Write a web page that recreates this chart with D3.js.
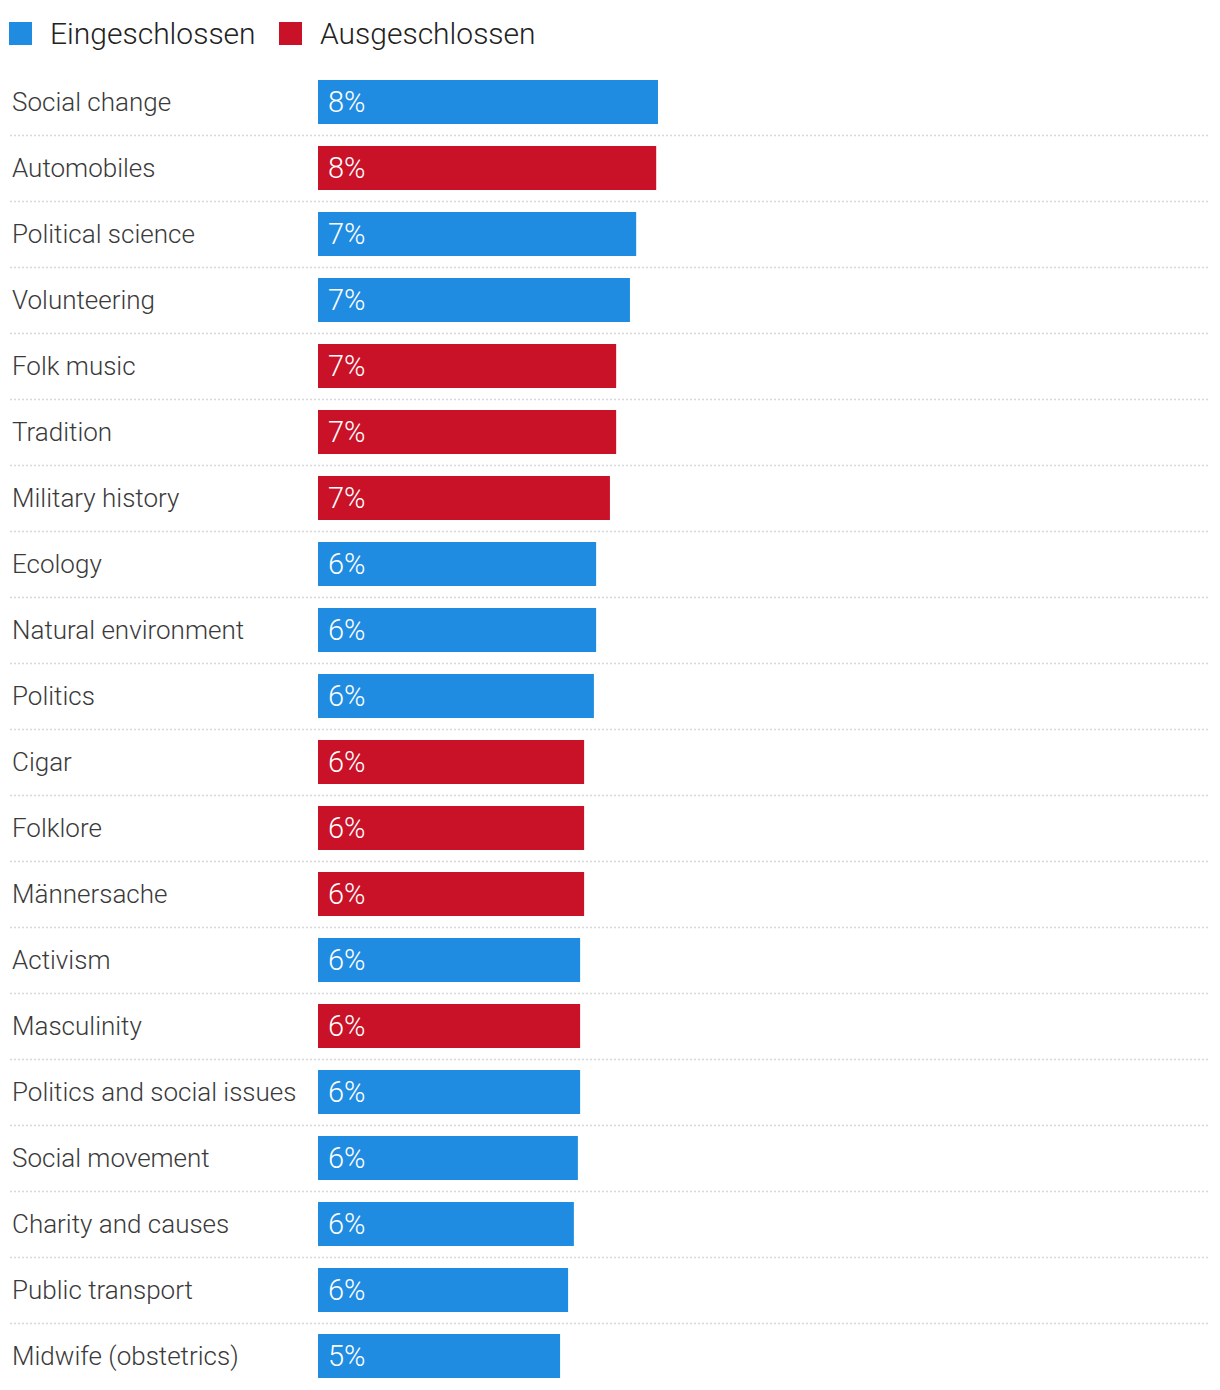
<!DOCTYPE html>
<html><head><meta charset="utf-8">
<script src="https://cdn.jsdelivr.net/npm/d3@7"></script>
<style>
html,body{margin:0;padding:0;background:#fff;}
svg text{font-family:Roboto,"Noto Sans",sans-serif;font-weight:300;}
</style></head>
<body><div id="chart"></div>
<script>
const categories = ["Social change","Automobiles","Political science","Volunteering","Folk music","Tradition","Military history","Ecology","Natural environment","Politics","Cigar","Folklore","Männersache","Activism","Masculinity","Politics and social issues","Social movement","Charity and causes","Public transport","Midwife (obstetrics)"];
const values = [7.64,7.60,7.15,7.01,6.70,6.70,6.56,6.25,6.25,6.20,5.98,5.98,5.98,5.89,5.89,5.89,5.84,5.75,5.62,5.44];
const groups = ["Eingeschlossen","Ausgeschlossen","Eingeschlossen","Eingeschlossen","Ausgeschlossen","Ausgeschlossen","Ausgeschlossen","Eingeschlossen","Eingeschlossen","Eingeschlossen","Ausgeschlossen","Ausgeschlossen","Ausgeschlossen","Eingeschlossen","Ausgeschlossen","Eingeschlossen","Eingeschlossen","Eingeschlossen","Eingeschlossen","Eingeschlossen"];
const legendLabels = ["Eingeschlossen","Ausgeschlossen"];
const colors = ["#1f8ce1","#c91127"];

const W = 1220, H = 1390;
const svg = d3.select("#chart").append("svg").attr("width", W).attr("height", H);
const color = d3.scaleOrdinal().domain(legendLabels).range(colors);

// legend
const lg = svg.append("g");
const legX = [9, 279];
legendLabels.forEach((l, i) => {
  lg.append("rect").attr("x", legX[i]).attr("y", 22).attr("width", 23).attr("height", 23).attr("fill", color(l));
  lg.append("text").attr("x", legX[i] + 41).attr("y", 44).attr("font-size", 30).attr("fill", "#222").text(l);
});

const y = d3.scaleBand().domain(categories).range([80 - 11, 80 - 11 + 66 * categories.length]).paddingInner(22/66).paddingOuter(11/66);
const x = d3.scaleLinear().domain([0, 10]).range([318, 318 + 445]);

const rows = svg.append("g").selectAll("g").data(categories).join("g");
rows.append("rect")
  .attr("x", x(0))
  .attr("y", d => y(d))
  .attr("height", y.bandwidth())
  .attr("width", (d, i) => x(values[i]) - x(0))
  .attr("fill", (d, i) => color(groups[i]));
rows.append("text")
  .attr("x", 12)
  .attr("y", d => y(d) + y.bandwidth() / 2 + 9)
  .attr("font-size", 26).attr("fill", "#3a3a3a")
  .text(d => d);
rows.append("text")
  .attr("x", x(0) + 10)
  .attr("y", d => y(d) + y.bandwidth() / 2 + 9.5)
  .attr("font-size", 29).attr("fill", "#fff")
  .text((d, i) => Math.round(values[i]) + "%");
// separators
svg.append("g").selectAll("line").data(categories.slice(0, -1)).join("line")
  .attr("x1", 10).attr("x2", 1208)
  .attr("y1", d => y(d) + y.bandwidth() + 11.5)
  .attr("y2", d => y(d) + y.bandwidth() + 11.5)
  .attr("stroke", "#d8d8d8").attr("stroke-width", 1.5).attr("stroke-dasharray", "2,2");
</script></body></html>
